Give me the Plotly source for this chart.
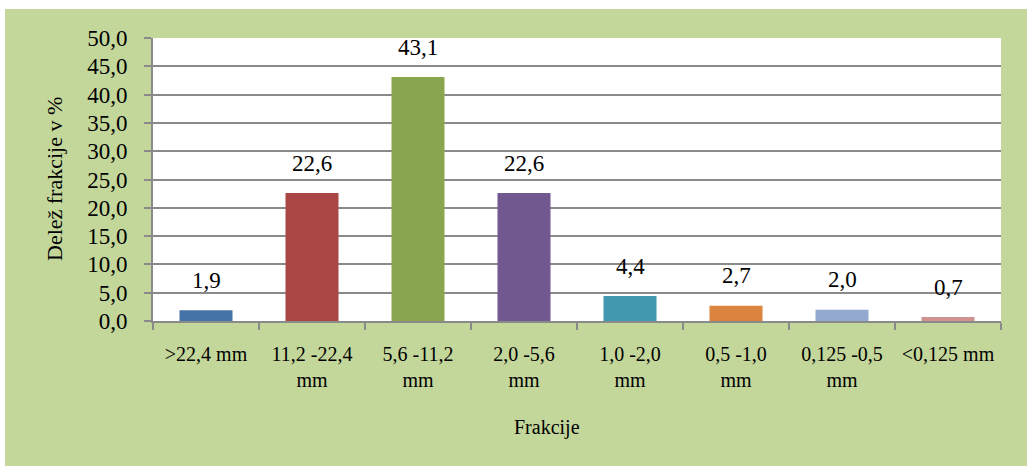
import plotly.graph_objects as go

# Fraction categories and their share in percent
categories = [">22,4 mm", "11,2 -22,4<br>mm", "5,6 -11,2<br>mm", "2,0 -5,6<br>mm",
              "1,0 -2,0<br>mm", "0,5 -1,0<br>mm", "0,125 -0,5<br>mm", "<0,125 mm"]
shares = [1.9, 22.6, 43.1, 22.6, 4.4, 2.7, 2.0, 0.7]
bar_colors = ["#4572a7", "#aa4643", "#89a54e", "#71588f",
              "#4198af", "#db843d", "#93a9cf", "#d19392"]
y_ticks = [0, 5, 10, 15, 20, 25, 30, 35, 40, 45, 50]

W, H = 1027, 466
ML, MR, MT, MB = 153, 26, 38, 145
FONT = "Liberation Serif"
GREEN = "#c4d79b"
GRID = "#8a8a8a"


def fmt(v):
    return f"{v:.1f}".replace(".", ",")


fig = go.Figure(go.Bar(
    x=categories, y=shares,
    marker=dict(color=bar_colors, line=dict(width=0)),
    width=0.5,
    hoverinfo="skip",
))

# value labels above the bars
annotations = [
    dict(x=c, y=v, xref="x", yref="y", text=fmt(v), showarrow=False,
         yanchor="middle", yshift=30, font=dict(family=FONT, size=23, color="#000"))
    for c, v in zip(categories, shares)
]

pw = W - ML - MR
ph = H - MT - MB


def px_x(p):
    return (p - ML) / pw


def px_y(p):
    return (H - MB - p) / ph


# axis titles
annotations.append(dict(text="Frakcije", x=px_x(547), y=px_y(427), xref="paper", yref="paper",
                        showarrow=False, xanchor="center", yanchor="middle",
                        font=dict(family=FONT, size=20, color="#000")))
annotations.append(dict(text="Delež frakcije v %", x=px_x(54), y=px_y(179), xref="paper", yref="paper",
                        showarrow=False, textangle=-90, xanchor="center", yanchor="middle",
                        font=dict(family=FONT, size=22, color="#000")))

# thin white frame along the top and left edges of the green chart area
shapes = [
    dict(type="rect", xref="paper", yref="paper", x0=px_x(0), x1=px_x(W), y0=px_y(9), y1=px_y(0),
         fillcolor="#ffffff", line=dict(width=0), layer="above"),
    dict(type="rect", xref="paper", yref="paper", x0=px_x(0), x1=px_x(5), y0=px_y(H), y1=px_y(0),
         fillcolor="#ffffff", line=dict(width=0), layer="above"),
]

fig.update_layout(
    width=W, height=H,
    margin=dict(l=ML, r=MR, t=MT, b=MB, pad=0, autoexpand=False),
    paper_bgcolor=GREEN, plot_bgcolor="#ffffff",
    separators=", ",
    showlegend=False,
    annotations=annotations,
    shapes=shapes,
    xaxis=dict(
        type="category", tickson="boundaries", ticks="outside", ticklen=7,
        tickcolor=GRID, tickwidth=2, tickangle=0, automargin=False,
        ticklabelstandoff=14,
        showline=True, linecolor=GRID, linewidth=2,
        showgrid=False, zeroline=False,
        tickfont=dict(family=FONT, size=20, color="#000"),
        fixedrange=True,
    ),
    yaxis=dict(
        range=[0, 50], tickvals=y_ticks, ticktext=[fmt(v) for v in y_ticks],
        ticks="outside", ticklen=7, tickcolor=GRID, tickwidth=2, automargin=False,
        ticklabelstandoff=12,
        showline=True, linecolor=GRID, linewidth=2,
        showgrid=True, gridcolor=GRID, gridwidth=2,
        zeroline=False,
        tickfont=dict(family=FONT, size=23, color="#000"),
        fixedrange=True,
    ),
    bargap=0.5,
)

fig.write_html("out.html")
